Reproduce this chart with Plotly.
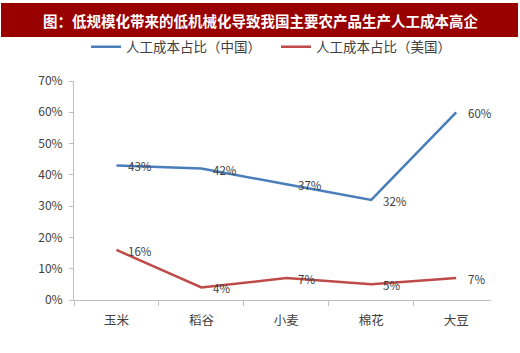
import plotly.graph_objects as go

categories = ["玉米", "稻谷", "小麦", "棉花", "大豆"]
china = [0.43, 0.42, 0.37, 0.32, 0.60]
usa = [0.16, 0.04, 0.07, 0.05, 0.07]
china_labels = ["43%", "42%", "37%", "32%", "60%"]
usa_labels = ["16%", "4%", "7%", "5%", "7%"]
title_text = "图：低规模化带来的低机械化导致我国主要农产品生产人工成本高企"

FONT = "Noto Sans CJK SC, Liberation Sans, sans-serif"

fig = go.Figure()
fig.add_trace(go.Scatter(
    x=categories, y=china, mode="lines", name="人工成本占比（中国）",
    line=dict(color="#4A7EBB", width=2.5),
))
fig.add_trace(go.Scatter(
    x=categories, y=usa, mode="lines", name="人工成本占比（美国）",
    line=dict(color="#BE4B48", width=2.5),
))

for series, labels in ((china, china_labels), (usa, usa_labels)):
    for c, v, t in zip(categories, series, labels):
        fig.add_annotation(x=c, y=v, xref="x", yref="y", text=t, showarrow=False,
                           xanchor="left", yanchor="middle", xshift=10, yshift=-1,
                           font=dict(size=11.5, color="#404040", family=FONT))

L, R, T, B = 74, 29, 81, 53
W, H = 520, 353
pw = W - L - R
ph = H - T - B

def px_x(p):
    return (p - L) / pw

def px_y(p):
    return (H - B - p) / ph

fig.add_shape(type="rect", xref="paper", yref="paper",
              x0=px_x(1), x1=px_x(518), y0=px_y(37), y1=px_y(3),
              fillcolor="#990000", line=dict(width=0), layer="below")
fig.add_annotation(xref="paper", yref="paper", x=px_x(260), y=px_y(20),
                   text="<b>" + title_text + "</b>", showarrow=False,
                   font=dict(size=14.5, color="white", family=FONT),
                   xanchor="center", yanchor="middle")

fig.update_layout(
    width=W, height=H,
    margin=dict(l=L, r=R, t=T, b=B, pad=0),
    paper_bgcolor="white", plot_bgcolor="white",
    font=dict(family=FONT, color="#404040"),
    showlegend=True,
    legend=dict(orientation="h", x=px_x(86), y=px_y(47), xanchor="left", yanchor="middle",
                font=dict(size=13.5, color="#404040", family=FONT),
                bgcolor="rgba(0,0,0,0)", itemwidth=30, tracegroupgap=0,
                entrywidth=145, entrywidthmode="pixels"),
    xaxis=dict(
        type="category", showgrid=False, showline=True, linecolor="#BFBFBF", linewidth=1,
        ticks="outside", ticklen=5, tickcolor="#BFBFBF", tickson="boundaries",
        tickfont=dict(size=12.5, color="#404040", family=FONT), zeroline=False,
        range=[-0.5, 4.41], ticklabelstandoff=9,
    ),
    yaxis=dict(
        range=[0, 0.7], dtick=0.1, tickformat=".0%", showgrid=False,
        showline=True, linecolor="#BFBFBF", linewidth=1,
        ticks="outside", ticklen=4, tickcolor="#BFBFBF",
        tickfont=dict(size=12, color="#404040", family=FONT), zeroline=False,
        ticklabelstandoff=4,
    ),
)

fig.write_html("out.html")
